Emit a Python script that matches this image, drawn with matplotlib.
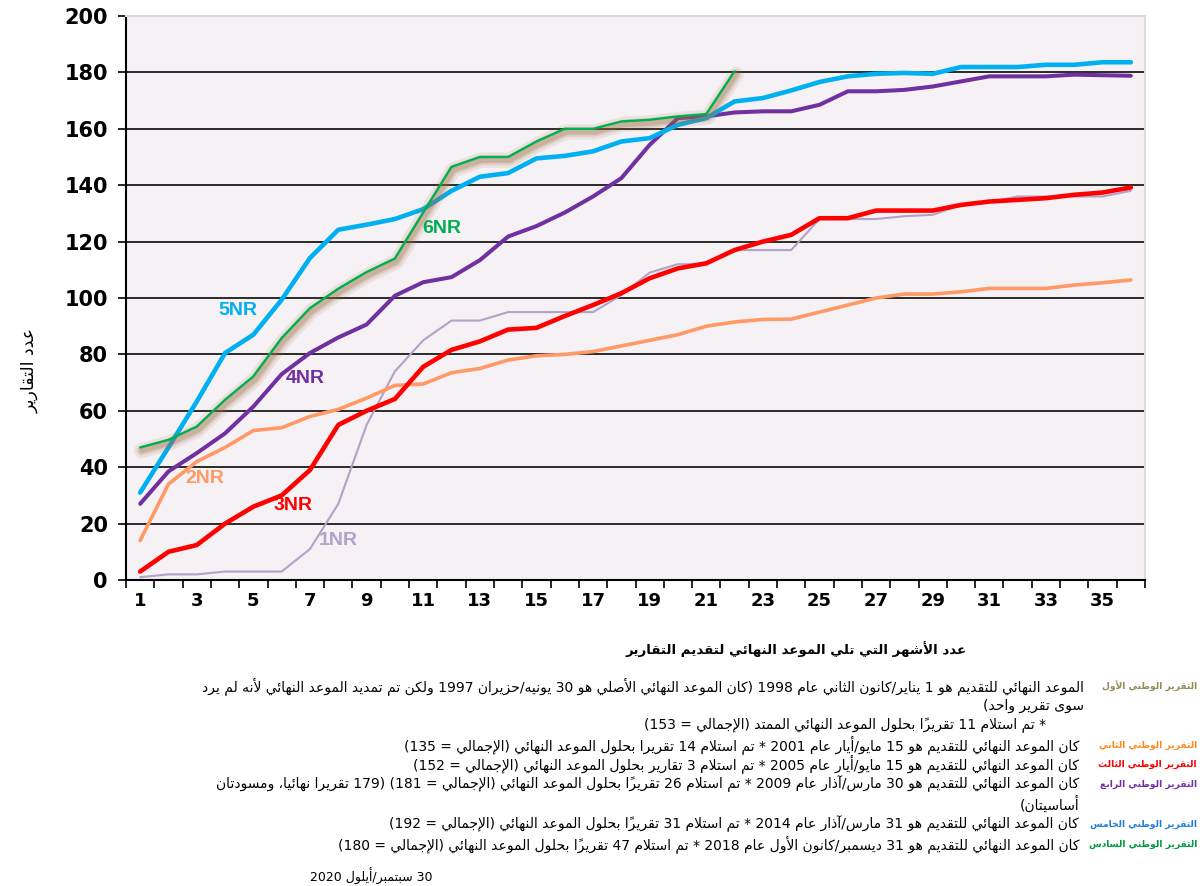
import matplotlib
matplotlib.use("Agg")
import matplotlib.pyplot as plt
import matplotlib.patheffects as pe
import numpy as np

# ---------------- data ----------------
months = list(range(1, 37))
nr1 = [1, 2, 2, 3, 3, 3, 11, 27, 55, 74, 85, 92, 92, 95, 95, 95, 95, 101, 109, 112,
       112, 117, 117, 117, 128, 128, 128, 129, 129.5, 133, 134, 136, 136, 136, 136, 138]
nr2 = [14, 34, 42, 47, 53, 54, 58, 60.5, 64.5, 69, 69.5, 73.5, 75, 78, 79.5, 80, 81, 83,
       85, 87, 90, 91.5, 92.4, 92.5, 95, 97.5, 100, 101.4, 101.4, 102.2, 103.4, 103.4,
       103.4, 104.6, 105.4, 106.4]
nr3 = [3, 10, 12.4, 20, 26, 30, 39, 55, 60, 64.2, 75.6, 81.6, 84.6, 88.8, 89.4, 93.6,
       97.5, 101.7, 107, 110.5, 112.3, 117, 120, 122.4, 128.3, 128.3, 131, 131, 131, 133,
       134.2, 134.8, 135.4, 136.6, 137.4, 139.2]
nr4 = [27, 38.5, 45, 52, 61.5, 73, 80.5, 86, 90.6, 100.8, 105.6, 107.4, 113.4, 121.8,
       125.5, 130.3, 136, 142.5, 154.3, 163.8, 164.4, 165.8, 166.2, 166.2, 168.5, 173.3,
       173.3, 173.8, 175, 176.8, 178.6, 178.6, 178.6, 179.2, 179, 178.8]
nr5 = [31, 47, 63.3, 80.5, 87, 99.4, 114.2, 124.2, 126, 128, 131.5, 138, 143, 144.3,
       149.5, 150.4, 152, 155.5, 156.7, 161.4, 163.8, 169.7, 170.9, 173.6, 176.6, 178.6,
       179.5, 179.8, 179.5, 181.9, 181.9, 181.9, 182.7, 182.7, 183.6, 183.6]
nr6 = [47, 49.7, 54.4, 63.9, 72.2, 85.8, 96.4, 103.3, 109.2, 114, 130.3, 146.5, 150, 150,
       155.5, 160, 160, 162.6, 163.2, 164.4, 165.2, 180.4]

series_names = ["1NR", "2NR", "3NR", "4NR", "5NR", "6NR"]
series_colors = ["#B3A2C7", "#FF9966", "#FF0000", "#7030A0", "#00B0F0", "#00B050"]

ylabel_text = "عدد التقارير"
xlabel_text = "عدد الأشهر التي تلي الموعد النهائي لتقديم التقارير"

note_labels = ["التقرير الوطني الأول", "التقرير الوطني الثاني", "التقرير الوطني الثالث",
               "التقرير الوطني الرابع", "التقرير الوطني الخامس", "التقرير الوطني السادس"]
note_label_colors = ["#948A54", "#FF8C1A", "#FF0000", "#7030A0", "#1F7FD8", "#009A3E"]
note_lines = [
    ["الموعد النهائي للتقديم هو 1 يناير/كانون الثاني عام 1998 (كان الموعد النهائي الأصلي هو 30 يونيه/حزيران 1997 ولكن تم تمديد الموعد النهائي لأنه لم يرد",
     "سوى تقرير واحد)",
     "* تم استلام 11 تقريراً بحلول الموعد النهائي الممتد (الإجمالي = 153)"],
    ["كان الموعد النهائي للتقديم هو 15 مايو/أيار عام 2001 * تم استلام 14 تقريرا بحلول الموعد النهائي (الإجمالي = 135)"],
    ["كان الموعد النهائي للتقديم هو 15 مايو/أيار عام 2005 * تم استلام 3 تقارير بحلول الموعد النهائي (الإجمالي = 152)"],
    ["كان الموعد النهائي للتقديم هو 30 مارس/آذار عام 2009 * تم استلام 26 تقريراً بحلول الموعد النهائي (الإجمالي = 181) (179 تقريرا نهائيا، ومسودتان",
     "أساسيتان)"],
    ["كان الموعد النهائي للتقديم هو 31 مارس/آذار عام 2014 * تم استلام 31 تقريراً بحلول الموعد النهائي (الإجمالي = 192)"],
    ["كان الموعد النهائي للتقديم هو 31 ديسمبر/كانون الأول عام 2018 * تم استلام 47 تقريراً بحلول الموعد النهائي (الإجمالي = 180)"],
]
date_text = "30 سبتمبر/أيلول 2020"

# ---------------- small Arabic shaping + RTL reordering ----------------
# (no arabic_reshaper / python-bidi here, so do the minimum by hand)
_LETTERS = "ءآأؤإئابةتثجحخدذرزسشصضطظعغفقكلمنهوىي"
_RIGHT_ONLY = "آأؤإادذرزوىة"
FORMS = {}
_code = 0xFE80
for _ch in _LETTERS:
    _n = 1 if _ch == "ء" else (2 if _ch in _RIGHT_ONLY else 4)
    FORMS[_ch] = [chr(_code + k) for k in range(_n)]
    _code += _n
LAM_ALEF = {"آ": 0xFEF5, "أ": 0xFEF7, "إ": 0xFEF9, "ا": 0xFEFB}
MARKS = set(chr(c) for c in range(0x064B, 0x0653))
MIRROR = {"(": ")", ")": "("}


def arabic(text):
    units = []
    for c in text:
        if c in MARKS and units:
            units[-1][1] += c
        else:
            units.append([c, ""])
    bases = [u[0] for u in units]
    out = []
    i = 0
    n = len(bases)
    while i < n:
        c, marks = units[i]
        if c in FORMS:
            prev = bases[i - 1] if i > 0 else ""
            nxt = bases[i + 1] if i + 1 < n else ""
            joins_prev = prev in FORMS and len(FORMS[prev]) == 4
            if c == "ل" and nxt in LAM_ALEF:
                out.append(chr(LAM_ALEF[nxt] + (1 if joins_prev else 0)) + marks + units[i + 1][1])
                i += 2
                continue
            forms = FORMS[c]
            joins_next = len(forms) == 4 and nxt in FORMS and nxt != "ء"
            if len(forms) == 1:
                k = 0
            elif len(forms) == 2:
                k = 1 if joins_prev else 0
            else:
                k = 3 if (joins_prev and joins_next) else 1 if joins_prev else 2 if joins_next else 0
            out.append(forms[k] + marks)
        else:
            out.append(MIRROR.get(c, c) + marks)
        i += 1
    out.reverse()
    # put runs of digits back in left-to-right order
    res = []
    j = 0
    while j < len(out):
        if out[j].isdigit():
            k = j
            while k < len(out) and out[k].isdigit():
                k += 1
            res.extend(reversed(out[j:k]))
            j = k
        else:
            res.append(out[j])
            j += 1
    return "".join(res)


# ---------------- figure ----------------
W, H = 1202, 886
fig = plt.figure(figsize=(W / 100, H / 100), dpi=100)
ax = fig.add_axes([126 / W, 1 - 580 / H, (1145 - 126) / W, (580 - 16) / H])
ax.set_facecolor("#F5F1F5")

all_series = [nr1, nr2, nr3, nr4, nr5, nr6]
widths = [1.5, 2.6, 3.3, 2.9, 3.3, 1.7]
for name, vals, col, lw in zip(series_names, all_series, series_colors, widths):
    kw = {}
    if name == "6NR":
        kw["path_effects"] = [
            pe.SimpleLineShadow(offset=(1.2, -2.2), shadow_color="#9C6E40", alpha=0.12, linewidth=11),
            pe.SimpleLineShadow(offset=(1.2, -2.2), shadow_color="#9C6E40", alpha=0.18, linewidth=7),
            pe.SimpleLineShadow(offset=(1.2, -2.2), shadow_color="#9C6E40", alpha=0.28, linewidth=4),
            pe.Normal(),
        ]
    ax.plot(months[:len(vals)], vals, color=col, lw=lw, solid_joinstyle="round",
            solid_capstyle="round", zorder=3, **kw)

# series labels
label_pos = {"5NR": (4.45, 95.5), "6NR": (11.65, 124.5), "4NR": (6.85, 71.5),
             "2NR": (3.3, 36), "3NR": (6.4, 26.5), "1NR": (8.0, 14)}
for name, col in zip(series_names, series_colors):
    x, y = label_pos[name]
    ax.text(x, y, name, color=col, fontsize=14, fontweight="bold",
            family="Liberation Sans", ha="center", va="center", zorder=4)

yticks = list(range(0, 201, 20))
ax.set_ylim(0, 200)
ax.set_yticks(yticks)
for v in yticks[1:-1]:
    ax.axhline(v, color="#2A2A2A", lw=1.4, zorder=1)

ax.set_xlim(0.5, 36.5)
ax.set_xticks(months[::2])
ax.set_xticks(np.arange(0.5, 37, 1), minor=True)
ax.tick_params(axis="x", which="major", length=0, pad=9)
ax.tick_params(axis="x", which="minor", length=6, width=1.2, direction="out")
ax.tick_params(axis="y", which="major", length=6, width=1.2, direction="out", pad=7)
for lab in ax.get_yticklabels():
    lab.set_fontfamily("DejaVu Sans")
    lab.set_fontweight("bold")
    lab.set_fontsize(15)
for lab in ax.get_xticklabels():
    lab.set_fontfamily("DejaVu Sans")
    lab.set_fontweight("bold")
    lab.set_fontsize(13)

for s in ["left", "bottom"]:
    ax.spines[s].set_color("black")
    ax.spines[s].set_linewidth(1.5)
for s in ["top", "right"]:
    ax.spines[s].set_color("#DDDADD")
    ax.spines[s].set_linewidth(1.5)

# axis titles
fig.text(30 / W, 1 - 370 / H, arabic(ylabel_text), rotation=90, ha="center", va="center",
         fontsize=12.5, family="DejaVu Sans")
fig.text(796 / W, 1 - 649 / H, arabic(xlabel_text), ha="center", va="center",
         fontsize=9.6, fontweight="bold", family="DejaVu Sans")

# notes under the chart
rows = [[686, 706, 725], [745], [764], [784, 804], [824], [844]]
text_right = [[1084, 1084, 1046], [1079], [1079], [1079, 1079], [1079], [1079]]
for lab, col, lines, ys, xs in zip(note_labels, note_label_colors, note_lines, rows, text_right):
    fig.text(1197 / W, 1 - ys[0] / H, arabic(lab), color=col, fontsize=6.6, fontweight="bold",
             ha="right", va="center", family="DejaVu Sans")
    for line, y, x in zip(lines, ys, xs):
        fig.text(x / W, 1 - y / H, arabic(line), color="black", fontsize=10,
                 ha="right", va="center", family="DejaVu Sans")
fig.text(371 / W, 1 - 876 / H, arabic(date_text), fontsize=9, ha="center", va="center",
         family="DejaVu Sans")

fig.savefig("out.png", dpi=100, facecolor="white")
